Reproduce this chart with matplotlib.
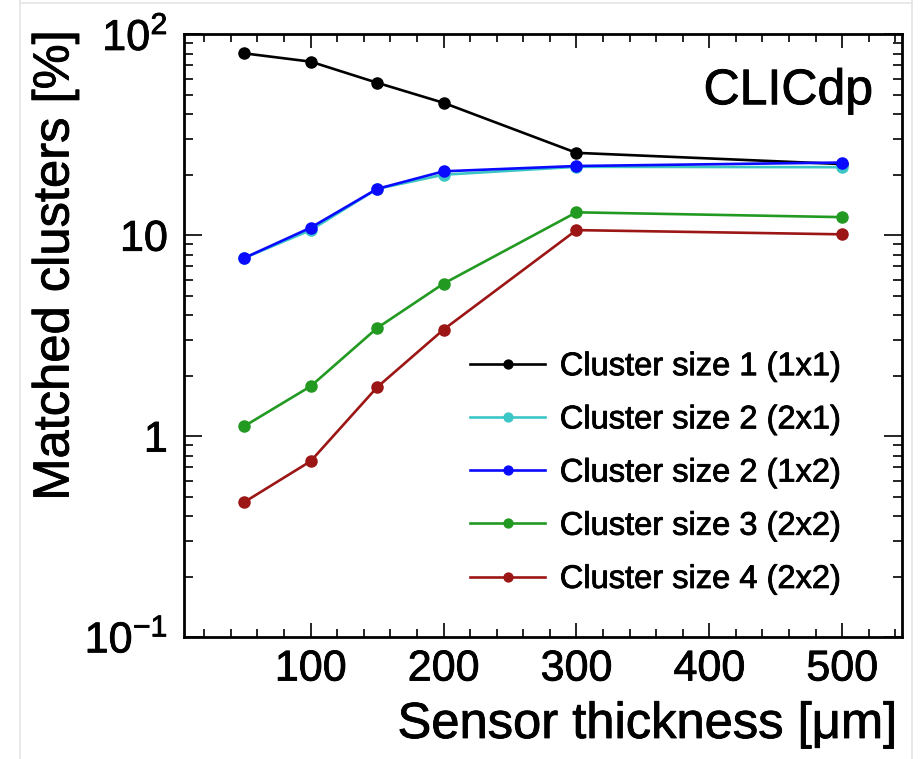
import matplotlib
matplotlib.use("Agg")
import matplotlib.pyplot as plt
import matplotlib.patheffects as pe
from matplotlib.lines import Line2D
from matplotlib.ticker import FixedLocator, FixedFormatter, LogLocator, MultipleLocator, NullFormatter

plt.rcParams["font.family"] = ["Liberation Sans", "DejaVu Sans"]
plt.rcParams["mathtext.fontset"] = "custom"
plt.rcParams["mathtext.rm"] = "Liberation Sans"
plt.rcParams["mathtext.default"] = "regular"

# sensor thickness [um]
thickness = [50, 100, 150, 200, 300, 500]

# matched clusters [%]
size1_1x1 = [80.4, 73.1, 57.4, 45.6, 25.7, 22.6]
size2_2x1 = [7.7, 10.6, 17.0, 20.0, 21.9, 21.8]
size2_1x2 = [7.7, 10.9, 17.0, 20.8, 22.1, 23.0]
size3_2x2 = [1.12, 1.77, 3.45, 5.74, 13.0, 12.3]
size4_2x2 = [0.469, 0.750, 1.75, 3.39, 10.6, 10.1]

labels = ["Cluster size 1 (1x1)", "Cluster size 2 (2x1)", "Cluster size 2 (1x2)",
          "Cluster size 3 (2x2)", "Cluster size 4 (2x2)"]
series = [size1_1x1, size2_2x1, size2_1x2, size3_2x2, size4_2x2]
colors = ["#000000", "#3cc6c6", "#0a0aff", "#229a22", "#9c1616"]

ytick_vals = [0.1, 1, 10, 100]
ytick_labels = ["$10^{-1}$", "1", "10", "$10^{2}$"]
xtick_vals = [100, 200, 300, 400, 500]

heavy = [pe.withStroke(linewidth=0.6, foreground="black")]

fig = plt.figure(figsize=(9.24, 7.59), dpi=100)
ax = fig.add_axes([184.4 / 924, 1 - 637 / 759, (902 - 184.4) / 924, (637 - 34.3) / 759])

for ys, lab, c in zip(series, labels, colors):
    ax.plot(thickness, ys, color=c, lw=1.9, marker="o", ms=8, label=lab)

ax.set_yscale("log")
ax.set_xlim(5, 545)
ax.set_ylim(0.1, 100)

ax.xaxis.set_major_locator(FixedLocator(xtick_vals))
ax.xaxis.set_minor_locator(MultipleLocator(20))
ax.yaxis.set_major_locator(FixedLocator(ytick_vals))
ax.yaxis.set_major_formatter(FixedFormatter(ytick_labels))
ax.yaxis.set_minor_locator(LogLocator(base=10, subs=range(2, 10), numticks=20))
ax.yaxis.set_minor_formatter(NullFormatter())

ax.tick_params(which="both", direction="in", top=True, right=True, width=1.2,
               colors="black")
ax.tick_params(axis="x", which="major", length=10, pad=9, labelsize=31)
ax.tick_params(axis="x", which="minor", length=6)
ax.tick_params(axis="y", which="major", length=13, pad=12, labelsize=31)
ax.tick_params(axis="y", which="minor", length=6.5)
for sp in ax.spines.values():
    sp.set_linewidth(2.0)
for t in ax.get_xticklabels() + ax.get_yticklabels():
    t.set_path_effects(heavy)

fig.text(898 / 924, 1 - 738 / 759, "Sensor thickness [\u03bcm]", ha="right",
         va="baseline", fontsize=36.5, path_effects=heavy)
fig.text(55 / 924, 1 - 30 / 759, "Matched clusters [%]", rotation=90, ha="center",
         va="top", fontsize=36.5, path_effects=heavy)

ax.text(0.960, 0.884, "CLICdp", transform=ax.transAxes, ha="right",
        va="baseline", fontsize=36, path_effects=heavy)

leg = ax.legend(loc="center left", bbox_to_anchor=(0.398, 0.272), frameon=False,
                fontsize=23.5, handlelength=2.3, handletextpad=0.45, labelspacing=0.68,
                markerscale=0.8, borderpad=0, borderaxespad=0)
for t in leg.get_texts():
    t.set_path_effects(heavy)

# faint screenshot border
for xs, ys in [((20, 20), (0, 759)), ((912, 912), (0, 759)), ((20, 912), (3, 3))]:
    fig.add_artist(Line2D([x / 924 for x in xs], [1 - y / 759 for y in ys],
                          transform=fig.transFigure, color="#e4e4e4", lw=1.2))

fig.savefig("out.png", dpi=100)
